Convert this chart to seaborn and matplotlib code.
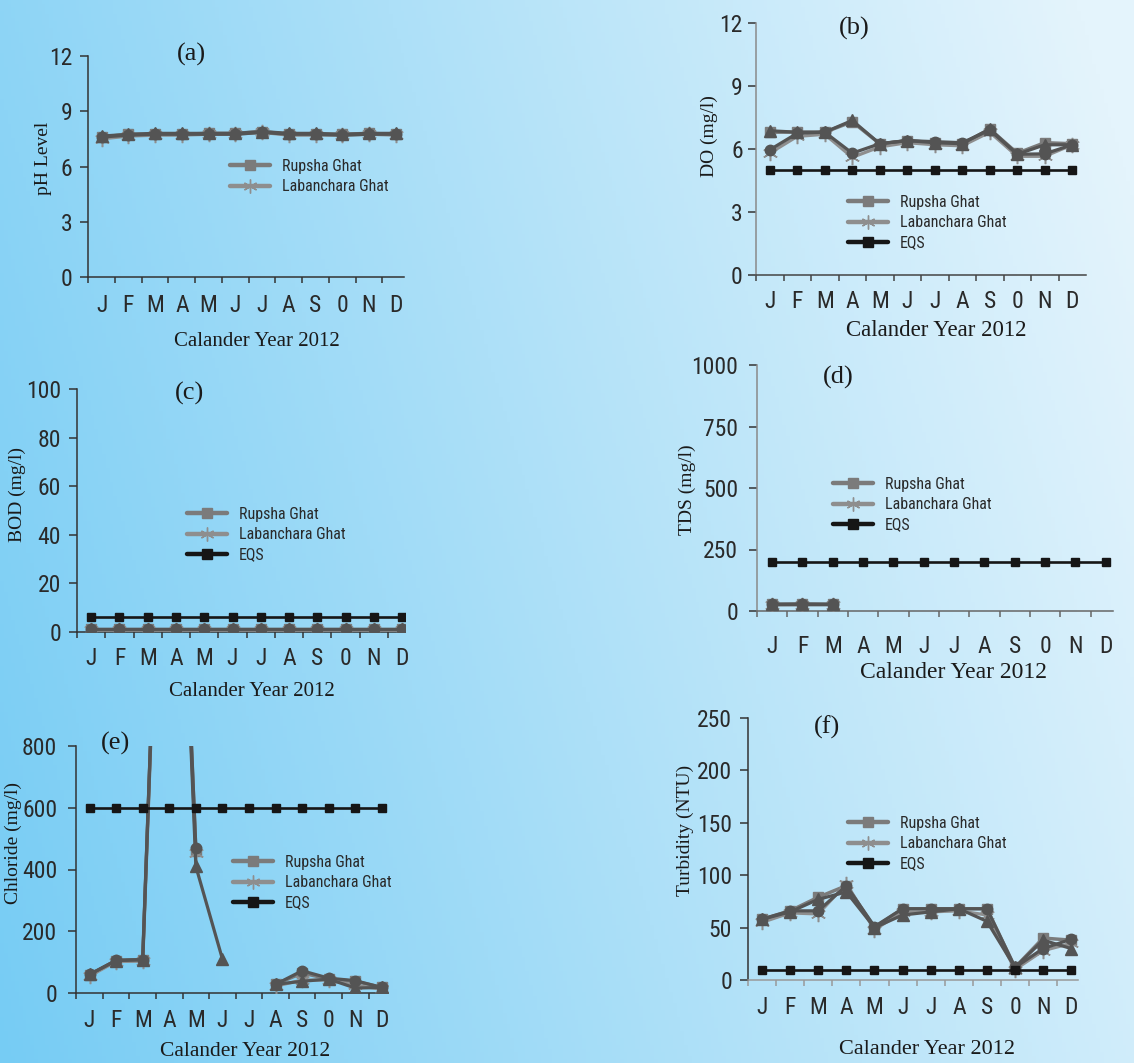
import numpy as np
import pandas as pd
import matplotlib
matplotlib.use("Agg")
import matplotlib.pyplot as plt
from matplotlib.lines import Line2D
from matplotlib import font_manager
import seaborn as sns

# ---------------------------------------------------------------- data
months = ["J", "F", "M", "A", "M", "J", "J", "A", "S", "0", "N", "D"]
nan = np.nan

# (a) pH
ph_rupsha = [7.60, 7.75, 7.75, 7.75, 7.80, 7.80, 7.90, 7.75, 7.75, 7.75, 7.80, 7.75]
ph_labanchara = [7.50, 7.65, 7.70, 7.70, 7.75, 7.75, 7.85, 7.70, 7.70, 7.70, 7.75, 7.70]
ph_site3 = [7.65, 7.75, 7.80, 7.80, 7.80, 7.80, 7.90, 7.80, 7.80, 7.75, 7.80, 7.80]
ph_site4 = [7.60, 7.70, 7.75, 7.75, 7.75, 7.75, 7.85, 7.75, 7.75, 7.70, 7.75, 7.75]

# (b) DO
do_rupsha = [6.80, 6.80, 6.80, 7.30, 6.25, 6.40, 6.30, 6.25, 6.95, 5.80, 6.30, 6.25]
do_labanchara = [5.80, 6.60, 6.70, 5.60, 6.10, 6.30, 6.20, 6.15, 6.80, 5.65, 5.65, 6.20]
do_site3 = [6.87, 6.80, 6.80, 7.36, 6.25, 6.40, 6.30, 6.25, 6.95, 5.75, 6.20, 6.20]
do_site4 = [5.96, 6.75, 6.80, 5.80, 6.25, 6.40, 6.35, 6.30, 6.90, 5.75, 5.77, 6.20]
do_eqs = [5, 5, 5, 5, 5, 5, 5, 5, 5, 5, 5, 5]

# (c) BOD
bod_rupsha = [1.2, 1.2, 1.2, 1.2, 1.2, 1.2, 1.2, 1.2, 1.2, 1.2, 1.2, 1.2]
bod_labanchara = [1.0, 1.0, 1.0, 1.0, 1.0, 1.0, 1.0, 1.0, 1.0, 1.0, 1.0, 1.0]
bod_site3 = [1.3, 1.3, 1.3, 1.3, 1.3, 1.3, 1.3, 1.3, 1.3, 1.3, 1.3, 1.3]
bod_site4 = [1.2, 1.2, 1.2, 1.2, 1.2, 1.2, 1.2, 1.2, 1.2, 1.2, 1.2, 1.2]
bod_eqs = [6, 6, 6, 6, 6, 6, 6, 6, 6, 6, 6, 6]

# (d) TDS
tds_rupsha = [28, 28, 28, nan, nan, nan, nan, nan, nan, nan, nan, nan]
tds_labanchara = [25, 26, 26, nan, nan, nan, nan, nan, nan, nan, nan, nan]
tds_site3 = [30, 30, 30, nan, nan, nan, nan, nan, nan, nan, nan, nan]
tds_site4 = [28, 29, 28, nan, nan, nan, nan, nan, nan, nan, nan, nan]
tds_eqs = [200, 200, 200, 200, 200, 200, 200, 200, 200, 200, 200, 200]

# (e) Chloride
cl_rupsha = [58, 105, 108, 2480, 460, nan, nan, 28, 65, 45, 38, 18]
cl_labanchara = [55, 102, 103, 2450, 455, nan, nan, 22, 42, 42, 25, 12]
cl_site3 = [60, 105, 108, 2500, 410, 110, nan, 28, 38, 45, 16, 18]
cl_site4 = [60, 106, 108, 2520, 470, nan, nan, 28, 72, 48, 40, 18]
cl_eqs = [600, 600, 600, 600, 600, 600, 600, 600, 600, 600, 600, 600]

# (f) Turbidity
tu_rupsha = [58, 66, 79, 90, 50, 68, 68, 68, 68, 12, 40, 38]
tu_labanchara = [55, 64, 63, 92, 48, 65, 65, 66, 62, 10, 28, 35]
tu_site3 = [58, 65, 77, 84, 50, 62, 65, 68, 56, 12, 38, 30]
tu_site4 = [58, 66, 66, 90, 51, 68, 68, 68, 68, 12, 30, 39]
tu_eqs = [10, 10, 10, 10, 10, 10, 10, 10, 10, 10, 10, 10]

legend_names = ["Rupsha Ghat", "Labanchara Ghat", "EQS"]
x_title = "Calander Year 2012"

# ---------------------------------------------------------------- style
sns.set_theme(style="ticks")
_names = {f.name for f in font_manager.fontManager.ttflist}
_sans = [n for n in ["Liberation Sans Narrow", "Roboto Condensed", "Open Sans Condensed",
                     "Liberation Sans", "DejaVu Sans"] if n in _names] or ["DejaVu Sans"]
SANS = _sans + ["DejaVu Sans"]
SERIF = ["Liberation Serif", "DejaVu Serif"]
plt.rcParams["font.family"] = SANS

W, H = 1134, 1063
fig = plt.figure(figsize=(W / 100, H / 100), dpi=100)


def fx(x):
    return x / W


def fy(y):
    return 1 - y / H


# soft blue gradient backdrop
bg = fig.add_axes([0, 0, 1, 1], zorder=-10)
gx, gy = np.meshgrid(np.linspace(0, 1, 300), np.linspace(0, 1, 300))
t = np.clip(0.82 * gx + 0.22 * (1 - gy), 0, 1)[..., None]
c0 = np.array([118, 204, 244]) / 255
c1 = np.array([228, 244, 252]) / 255
bg.imshow(c0 * (1 - t) + c1 * t, aspect="auto", extent=[0, 1, 0, 1], origin="upper")
bg.set_axis_off()

C_RUP = "#7b7b7b"
C_LAB = "#8e8e8e"
C_DARK = "#545454"
C_EQS = "#161616"
STAR = (6, 2, 0)


def draw_series(ax, values, color, marker, ms, lw, z, mew=1.0, mfc=None):
    v = np.asarray(values, dtype=float)
    seg = np.cumsum(np.isnan(v))
    df = pd.DataFrame({"month": np.arange(12), "value": v, "seg": seg}).dropna()
    sns.lineplot(data=df, x="month", y="value", units="seg", estimator=None,
                 ax=ax, color=color, linewidth=lw, marker=marker, markersize=ms,
                 markeredgecolor=color, markerfacecolor=mfc if mfc else color,
                 markeredgewidth=mew, zorder=z, legend=False)


panels = [
    dict(tag="(a)", ylabel="pH Level", rect=(88, 404, 56, 277), xlim=(-0.51, 11.31),
         yticks=[0, 3, 6, 9, 12], series=(ph_rupsha, ph_labanchara, ph_site3, ph_site4), eqs=None,
         lspine="#333333", bspine="#333333", ypad=6, xpad=12.5,
         tagpos=(191, 54), ylpos=(43, 158), xlpos=(257, 342), xlsize=15,
         legpos=(230, 159)),
    dict(tag="(b)", ylabel="DO (mg/l)", rect=(756, 1086, 23, 275), xlim=(-0.5, 11.5),
         yticks=[0, 3, 6, 9, 12], series=(do_rupsha, do_labanchara, do_site3, do_site4), eqs=do_eqs,
         lspine="#8a8a8a", bspine="#444444", ypad=4, xpad=10.5,
         tagpos=(854, 28), ylpos=(709, 136), xlpos=(936, 330), xlsize=16.5,
         legpos=(848, 195)),
    dict(tag="(c)", ylabel="BOD (mg/l)", rect=(77, 405, 389, 632), xlim=(-0.45, 11.1),
         yticks=[0, 20, 40, 60, 80, 100], series=(bod_rupsha, bod_labanchara, bod_site3, bod_site4),
         eqs=bod_eqs, lspine="#333333", bspine="#333333", ypad=6, xpad=10.5,
         tagpos=(189, 393), ylpos=(17, 494), xlpos=(252, 692), xlsize=15,
         legpos=(187, 507)),
    dict(tag="(d)", ylabel="TDS (mg/l)", rect=(757, 1113, 365, 611), xlim=(-0.36, 11.24),
         yticks=[0, 250, 500, 750, 1000], series=(tds_rupsha, tds_labanchara, tds_site3, tds_site4),
         eqs=tds_eqs, lspine="#8a8a8a", bspine="#666666", ypad=8, xpad=17,
         tagpos=(838, 377), ylpos=(687, 490), xlpos=(953, 673), xlsize=17,
         legpos=(833, 477)),
    dict(tag="(e)", ylabel="Chloride (mg/l)", rect=(76, 388, 746, 993), xlim=(-0.51, 11.23),
         yticks=[0, 200, 400, 600, 800], series=(cl_rupsha, cl_labanchara, cl_site3, cl_site4),
         eqs=cl_eqs, lspine="#333333", bspine="#333333", ypad=8, xpad=11.5,
         tagpos=(115, 743), ylpos=(13, 843), xlpos=(245, 1052), xlsize=15.5,
         legpos=(233, 855)),
    dict(tag="(f)", ylabel="Turbidity (NTU)", rect=(748, 1078, 718, 980), xlim=(-0.47, 11.24),
         yticks=[0, 50, 100, 150, 200, 250], series=(tu_rupsha, tu_labanchara, tu_site3, tu_site4),
         eqs=tu_eqs, lspine="#333333", bspine="#999999", ypad=6, xpad=11.5,
         tagpos=(827, 727), ylpos=(685, 830), xlpos=(927, 1050), xlsize=16,
         legpos=(848, 816)),
]

for p in panels:
    l, r, t_, b = p["rect"]
    ax = fig.add_axes([fx(l), fy(b), (r - l) / W, (b - t_) / H])
    ax.patch.set_alpha(0)

    rup, lab, s3, s4 = p["series"]
    draw_series(ax, rup, C_RUP, "s", 6.5, 2.5, 3)
    draw_series(ax, lab, C_LAB, STAR, 11, 2.3, 4, mew=1.1)
    draw_series(ax, s3, C_DARK, "^", 8, 2.3, 5)
    draw_series(ax, s4, C_DARK, "o", 7.5, 2.3, 6)
    if p["eqs"] is not None:
        draw_series(ax, p["eqs"], C_EQS, "s", 6, 1.9, 7)

    ax.set_xlabel("")
    ax.set_ylabel("")
    ax.set_xlim(*p["xlim"])
    ax.set_ylim(p["yticks"][0], p["yticks"][-1])
    ax.set_yticks(p["yticks"])
    ax.set_xticks(range(12))
    ax.set_xticklabels(months)
    ax.set_xticks(np.arange(-0.5, 11, 1.0), minor=True)

    for s in ("top", "right"):
        ax.spines[s].set_visible(False)
    ax.spines["left"].set_color(p["lspine"])
    ax.spines["bottom"].set_color(p["bspine"])
    ax.spines["left"].set_linewidth(1.1)
    ax.spines["bottom"].set_linewidth(1.1)

    ax.tick_params(axis="x", which="major", length=0, pad=p["xpad"], labelsize=17,
                   labelcolor="#2a2a2a")
    ax.tick_params(axis="x", which="minor", length=4.5, width=1.1, color=p["bspine"],
                   direction="out", bottom=True)
    ax.tick_params(axis="y", which="major", length=5.5, width=1.1, color="#333333",
                   direction="out", left=True, pad=p["ypad"], labelsize=17,
                   labelcolor="#2a2a2a")
    for lab_ in ax.get_xticklabels() + ax.get_yticklabels():
        lab_.set_family(SANS)

    fig.text(fx(p["tagpos"][0]), fy(p["tagpos"][1]), p["tag"], family=SERIF,
             fontsize=19, ha="center", va="center", color="#1a1a1a")
    fig.text(fx(p["ylpos"][0]), fy(p["ylpos"][1]), p["ylabel"], family=SERIF,
             fontsize=14, rotation=90, ha="center", va="center", color="#1a1a1a")
    fig.text(fx(p["xlpos"][0]), fy(p["xlpos"][1]), x_title, family=SERIF,
             fontsize=p["xlsize"], ha="center", va="center", color="#1a1a1a")

    handles = [
        Line2D([], [], color=C_RUP, lw=3.2, marker="s", ms=6.5, mfc=C_RUP, mec=C_RUP),
        Line2D([], [], color=C_LAB, lw=3.2, marker=STAR, ms=10, mec=C_LAB, mew=1.0),
        Line2D([], [], color=C_EQS, lw=3.2, marker="s", ms=7, mfc=C_EQS, mec=C_EQS),
    ]
    n = 3 if p["eqs"] is not None else 2
    leg = fig.legend(handles[:n], legend_names[:n], loc="upper left",
                     bbox_to_anchor=(fx(p["legpos"][0]), fy(p["legpos"][1])),
                     frameon=False, fontsize=11.5, handlelength=2.5, handletextpad=0.75,
                     labelspacing=0.33, borderpad=0, borderaxespad=0)
    for txt in leg.get_texts():
        txt.set_family(SANS)
        txt.set_color("#2a2a2a")

fig.savefig("out.png", dpi=100)
